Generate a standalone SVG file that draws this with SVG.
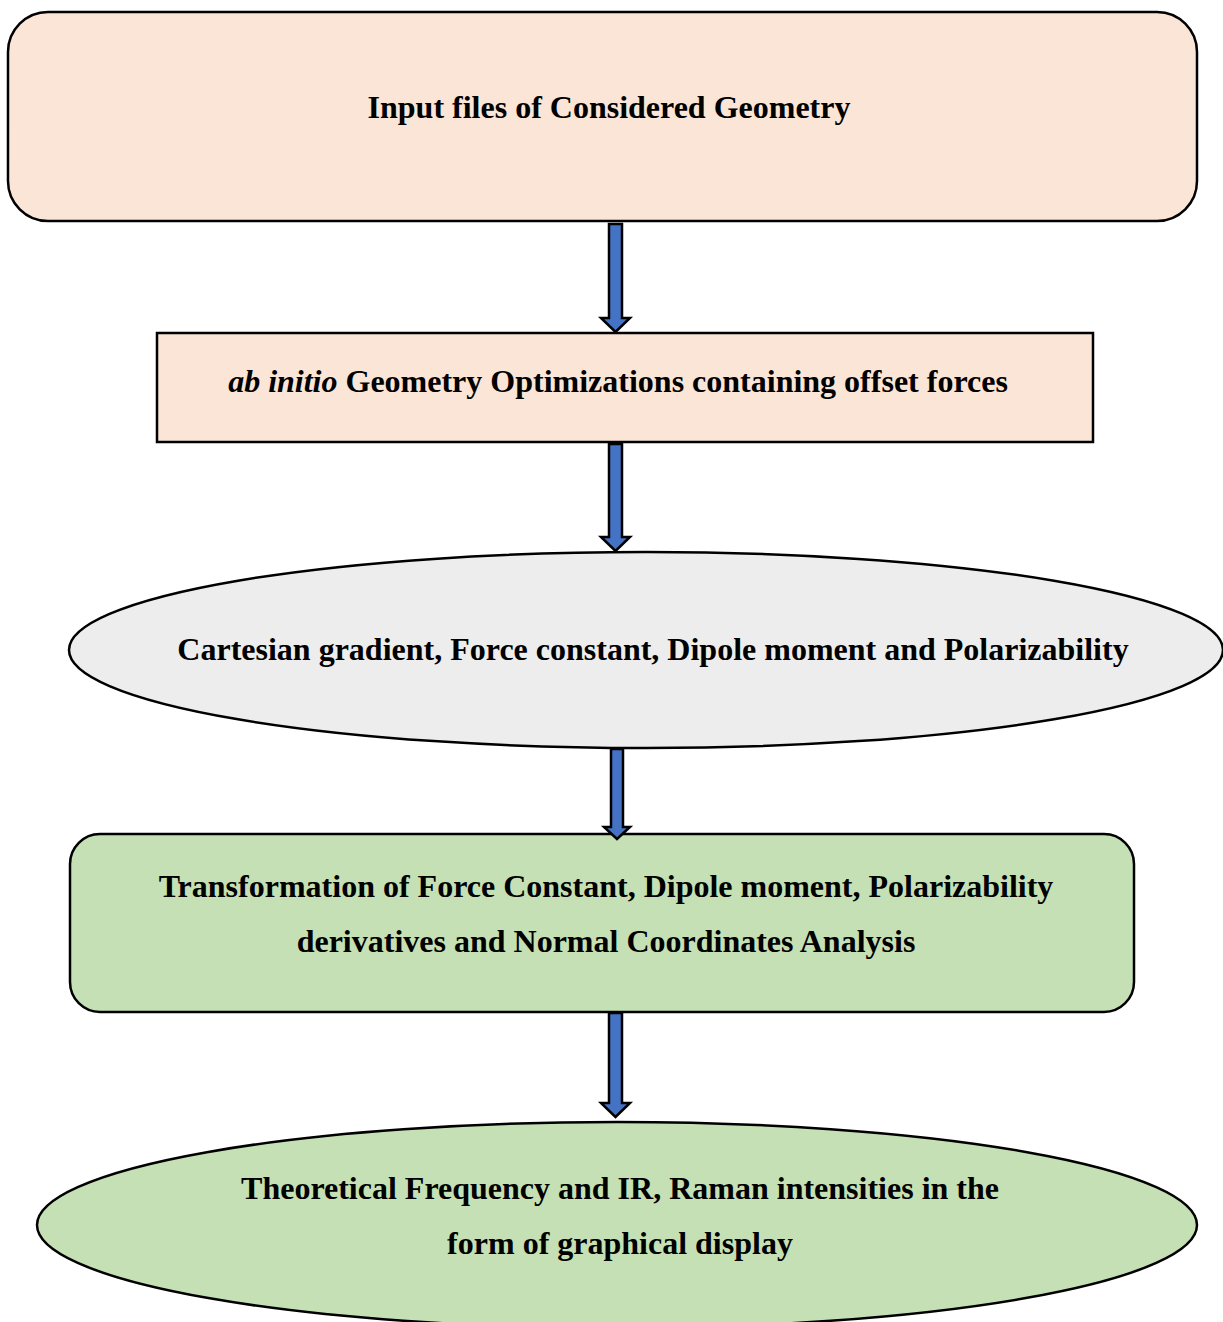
<svg xmlns="http://www.w3.org/2000/svg" width="1223" height="1322" viewBox="0 0 1223 1322">
  <style>
    .lbl { font-family: "Liberation Serif", "Times New Roman", serif; font-weight: bold; font-size: 32px; fill: #000; text-anchor: middle; }
    .node { stroke: #000; stroke-width: 2.5; }
    .peach { fill: #FBE5D6; }
    .grey { fill: #EDEDED; }
    .green { fill: #C5E0B4; }
    .arrow { fill: #4472C4; stroke: #000; stroke-width: 2.5; stroke-linejoin: miter; }
  </style>
  <rect width="1223" height="1322" fill="#fff"/>

  <g id="input-files">
    <rect class="node peach" x="8" y="12" width="1189" height="209" rx="40" ry="40"/>
    <text class="lbl" x="609" y="118">Input files of Considered Geometry</text>
  </g>

  <g id="geometry-optimization">
    <rect class="node peach" x="157" y="333" width="936" height="109"/>
    <text class="lbl" x="618" y="392"><tspan font-style="italic">ab initio</tspan> Geometry Optimizations containing offset forces</text>
  </g>

  <g id="cartesian-gradient">
    <ellipse class="node grey" cx="646" cy="650" rx="577" ry="98"/>
    <text class="lbl" x="653" y="660">Cartesian gradient, Force constant, Dipole moment and Polarizability</text>
  </g>

  <g id="transformation">
    <rect class="node green" x="70" y="834" width="1064" height="178" rx="30" ry="30"/>
    <text class="lbl" x="606" y="897">Transformation of Force Constant, Dipole moment, Polarizability</text>
    <text class="lbl" x="606" y="952">derivatives and Normal Coordinates Analysis</text>
  </g>

  <g id="theoretical-frequency">
    <ellipse class="node green" cx="617" cy="1225" rx="580" ry="103"/>
    <text class="lbl" x="620" y="1199">Theoretical Frequency and IR, Raman intensities in the</text>
    <text class="lbl" x="620" y="1254">form of graphical display</text>
  </g>

  <g id="connectors">
    <path class="arrow" d="M609,224 H622 V318 H630 L615.5,332 L601,318 H609 Z"/>
    <path class="arrow" d="M609,444 H622 V537 H630 L615.5,551 L601,537 H609 Z"/>
    <path class="arrow" d="M611,749 H623 V827 H630 L617,839 L604,827 H611 Z"/>
    <path class="arrow" d="M609,1013 H622 V1103 H630 L615.5,1117 L601,1103 H609 Z"/>
  </g>
</svg>
